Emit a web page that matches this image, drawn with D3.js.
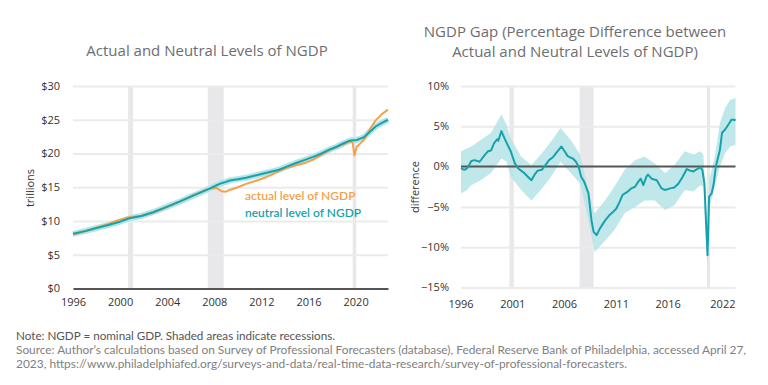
<!DOCTYPE html>
<html><head><meta charset="utf-8">
<script src="https://cdn.jsdelivr.net/npm/d3@7/dist/d3.min.js"></script>
<style>
body{margin:0;background:#fff;}
svg{display:block;font-family:"Open Sans",Lato,sans-serif;}
</style></head><body>
<svg id="c" width="768" height="385"></svg>
<script>
// ---------- DATA ----------
const recessions = [[2000.68, 2001.1], [2007.45, 2008.8], [2019.75, 2020.05]];

const levelYears = [1996.0,1997.0,1998.0,1999.0,2000.0,2000.8,2001.8,2002.8,2003.9,2005.1,2006.2,2007.0,2007.6,2008.2,2008.6,2009.0,2009.3,2010.0,2010.7,2011.4,2012.1,2012.8,2013.5,2014.2,2014.95,2015.7,2016.4,2017.1,2017.8,2018.4,2018.9,2019.5,2019.75,2019.9,2020.1,2020.4,2020.7,2021.2,2021.7,2022.2,2022.75];
const actualLevel = [8.0,8.45,9.0,9.55,10.2,10.55,10.75,11.2,12.0,12.9,13.8,14.4,14.8,14.9,14.4,14.35,14.6,15.0,15.5,15.9,16.3,16.8,17.4,17.9,18.25,18.6,19.1,19.8,20.5,21.0,21.3,21.8,21.6,19.7,21.0,21.5,22.0,23.6,24.9,25.8,26.5];
const neutralLevel = [8.1,8.5,8.95,9.4,9.9,10.4,10.75,11.3,12.05,12.9,13.75,14.35,14.8,15.3,15.6,15.8,16.0,16.2,16.4,16.7,17.0,17.3,17.6,18.1,18.6,19.05,19.5,20.0,20.6,21.0,21.45,21.9,21.95,21.95,22.0,22.2,22.4,23.2,24.0,24.5,25.0];

const gapYears = [1996.0,1996.3,1996.5,1996.65,1997.0,1997.3,1997.8,1998.3,1998.6,1998.9,1999.2,1999.5,1999.6,1999.9,2000.2,2000.5,2000.8,2001.2,2001.5,2001.8,2002.1,2002.45,2002.8,2003.1,2003.4,2003.8,2004.1,2004.5,2004.9,2005.2,2005.7,2006.0,2006.3,2006.8,2007.1,2007.35,2007.6,2007.9,2008.3,2008.6,2008.8,2009.1,2009.4,2009.9,2010.35,2010.7,2011.0,2011.3,2011.6,2012.1,2012.45,2012.8,2013.1,2013.35,2013.6,2013.9,2014.05,2014.4,2014.9,2015.35,2015.7,2016.2,2016.6,2017.0,2017.4,2017.8,2018.1,2018.45,2018.8,2019.1,2019.3,2019.5,2019.65,2019.8,2019.95,2020.2,2020.4,2020.6,2020.75,2021.0,2021.2,2021.5,2021.8,2022.1,2022.4,2022.5];
const gapValues = [-0.2,-0.4,-0.3,-0.1,0.7,0.8,0.6,1.45,1.9,2.0,2.9,3.4,3.2,4.4,3.5,2.7,1.9,0.4,-0.2,-0.5,-0.8,-1.25,-1.7,-1.0,-0.5,-0.4,0.1,0.8,1.2,1.7,2.5,1.9,1.3,1.0,0.6,0.0,-1.25,-1.9,-3.3,-6.7,-8.1,-8.5,-7.7,-6.7,-6.0,-5.6,-5.2,-4.4,-3.5,-3.1,-2.7,-2.5,-1.9,-1.5,-2.3,-1.25,-1.0,-1.5,-1.7,-2.7,-2.9,-2.7,-2.6,-2.1,-1.25,-0.3,-0.5,-0.6,-0.3,-0.1,-0.4,-2.1,-6.7,-11.0,-3.75,-3.3,-2.1,0.0,0.8,2.1,4.2,4.6,5.2,5.8,5.8,5.7];

const bandYears = [1996.0,1996.5,1997.0,1997.9,1998.9,1999.9,2000.4,2000.8,2001.8,2002.8,2003.7,2004.7,2005.6,2006.6,2007.5,2008.3,2008.9,2009.9,2010.8,2011.8,2012.8,2013.7,2014.7,2015.7,2016.6,2017.6,2018.45,2019.1,2019.4,2019.65,2019.8,2019.95,2020.5,2021.0,2021.5,2022.0,2022.5];
const bandUpper = [1.9,2.2,2.5,3.3,4.2,6.5,5.2,3.5,1.25,0.2,1.5,3.1,4.8,3.3,1.5,-2.9,-5.8,-4.2,-2.5,-0.4,0.8,1.25,0.4,-0.8,0.2,1.9,1.5,1.9,1.5,-4.5,-10.0,-1.7,1.25,5.4,7.3,8.3,8.5];
const bandLower = [-3.3,-3.0,-2.3,-1.7,-0.8,1.0,0.6,-1.25,-2.9,-4.2,-2.9,-1.25,0.6,-0.8,-2.1,-6.7,-10.6,-9.2,-7.9,-5.8,-5.0,-4.2,-4.2,-5.4,-4.8,-2.9,-3.1,-2.3,-2.5,-9.0,-12.9,-5.4,-2.5,0.0,1.7,2.5,2.7];

const leftYTicks = [0,5,10,15,20,25,30];
const leftYLabels = ["$0","$5","$10","$15","$20","$25","$30"];
const leftXTicks = [1996,2000,2004,2008,2012,2016,2020];
const rightYTicks = [-15,-10,-5,0,5,10];
const rightYLabels = ["\u221215%","\u221210%","\u22125%","0%","5%","10%"];
const rightXTicks = [1996,2001,2006,2011,2016,2022];

const leftTitle = "Actual and Neutral Levels of NGDP";
const rightTitle = ["NGDP Gap (Percentage Difference between","Actual and Neutral Levels of NGDP)"];
const notes = ["Note: NGDP = nominal GDP. Shaded areas indicate recessions.",
 "Source: Author\u2019s calculations based on Survey of Professional Forecasters (database), Federal Reserve Bank of Philadelphia, accessed April 27,",
 "2023, https://www.philadelphiafed.org/surveys-and-data/real-time-data-research/survey-of-professional-forecasters."];

// ---------- STYLE ----------
const ORANGE = "#f5a14a", TEAL = "#17a2ab", BAND = "#b5e4e8", REC = "#e8e8ea", GRID = "#ebebeb", BASE = "#555";
const svg = d3.select("#c");

// ---------- LEFT CHART ----------
const lx = d3.scaleLinear().domain([1996, 2022.75]).range([73, 388]);
const ly = d3.scaleLinear().domain([0, 30]).range([288.5, 86]);
const L = svg.append("g");
L.selectAll("rect.rec").data(recessions).join("rect")
  .attr("x", d => lx(d[0])).attr("width", d => lx(d[1]) - lx(d[0]))
  .attr("y", ly(30)).attr("height", ly(0) - ly(30)).attr("fill", REC);
L.append("g").attr("transform", `translate(73,0)`)
  .call(d3.axisLeft(ly).tickValues(leftYTicks.slice(1)).tickSize(-(388 - 73)).tickFormat(""))
  .call(g => { g.select(".domain").remove(); g.selectAll("line").attr("stroke", GRID).attr("stroke-width", 2); });
L.selectAll("text.ly").data(leftYTicks).join("text")
  .attr("x", 60).attr("y", d => ly(d)).attr("dy", "0.35em").attr("text-anchor", "end")
  .attr("font-size", 11).attr("fill", "#333").text((d, i) => leftYLabels[i]);
L.append("g").attr("transform", `translate(0,${ly(0)})`)
  .call(d3.axisBottom(lx).tickValues(leftXTicks).tickSize(0).tickPadding(10).tickFormat(d3.format("d")))
  .call(g => { g.select(".domain").attr("stroke", BASE).attr("stroke-width", 2);
    g.selectAll("text").attr("font-size", 11).attr("fill", "#333").attr("font-family", "'Open Sans',sans-serif"); });
L.append("text").attr("transform", "translate(34,188) rotate(-90)").attr("text-anchor", "middle")
  .attr("font-size", 11).attr("fill", "#333").text("trillions");
const lineL = (ys) => d3.line().x((d, i) => lx(levelYears[i])).y(d => ly(d))(ys);
L.append("path").attr("d", lineL(neutralLevel)).attr("fill", "none").attr("stroke", BAND).attr("stroke-width", 6).attr("stroke-linejoin","round");
L.append("path").attr("d", lineL(actualLevel)).attr("fill", "none").attr("stroke", ORANGE).attr("stroke-width", 2).attr("stroke-linejoin","round");
L.append("path").attr("d", lineL(neutralLevel)).attr("fill", "none").attr("stroke", TEAL).attr("stroke-width", 2).attr("stroke-linejoin","round");
L.append("text").attr("x", 245).attr("y", 200).attr("font-size", 12).attr("font-weight", 600).attr("fill", ORANGE)
  .attr("font-family", "Lato,sans-serif").text("actual level of NGDP");
L.append("text").attr("x", 245).attr("y", 217).attr("font-size", 12).attr("font-weight", 600).attr("fill", TEAL)
  .attr("font-family", "Lato,sans-serif").text("neutral level of NGDP");
L.append("text").attr("x", 207).attr("y", 56).attr("text-anchor", "middle").attr("font-size", 15)
  .attr("fill", "#6d6e71").text(leftTitle);

// ---------- RIGHT CHART ----------
const rx = d3.scaleLinear().domain([1996, 2022.5]).range([461, 735.5]);
const ry = d3.scaleLinear().domain([-15, 10]).range([287.5, 86]);
const R = svg.append("g");
R.selectAll("rect.rec").data(recessions).join("rect")
  .attr("x", d => rx(d[0])).attr("width", d => rx(d[1]) - rx(d[0]))
  .attr("y", ry(10)).attr("height", ry(-15) - ry(10)).attr("fill", REC);
R.append("g").attr("transform", `translate(461,0)`)
  .call(d3.axisLeft(ry).tickValues(rightYTicks.filter(d => d !== 0)).tickSize(-(735.5 - 461)).tickFormat(""))
  .call(g => { g.select(".domain").remove(); g.selectAll("line").attr("stroke", GRID).attr("stroke-width", 2); });
R.selectAll("text.ry").data(rightYTicks).join("text")
  .attr("x", 449).attr("y", d => ry(d)).attr("dy", "0.35em").attr("text-anchor", "end")
  .attr("font-size", 11).attr("fill", "#333").text((d, i) => rightYLabels[i]);
R.selectAll("text.rx").data(rightXTicks).join("text")
  .attr("x", (d, i) => i === rightXTicks.length - 1 ? 735.5 : rx(d)).attr("y", 308)
  .attr("text-anchor", (d, i) => i === rightXTicks.length - 1 ? "end" : "middle")
  .attr("font-size", 11).attr("fill", "#333").text(d => d);
R.append("text").attr("transform", "translate(419,187) rotate(-90)").attr("text-anchor", "middle")
  .attr("font-size", 11).attr("fill", "#333").text("difference");
const area = d3.area().x((d, i) => rx(bandYears[i])).y0((d, i) => ry(bandLower[i])).y1(d => ry(d));
R.append("path").attr("d", area(bandUpper)).attr("fill", BAND).attr("opacity", 0.85);
R.append("line").attr("x1", 461).attr("x2", 735.5).attr("y1", ry(0)).attr("y2", ry(0)).attr("stroke", BASE).attr("stroke-width", 2);
R.append("path").attr("d", d3.line().x((d, i) => rx(gapYears[i])).y(d => ry(d))(gapValues))
  .attr("fill", "none").attr("stroke", TEAL).attr("stroke-width", 2).attr("stroke-linejoin","round");
R.selectAll("text.rt").data(rightTitle).join("text")
  .attr("x", 575).attr("y", (d, i) => 37 + i * 20).attr("text-anchor", "middle").attr("font-size", 15)
  .attr("fill", "#6d6e71").text(d => d);

// ---------- NOTES ----------
const noteW = [319, 730, 611];
svg.selectAll("text.note").data(notes).join("text")
  .attr("x", 16).attr("y", (d, i) => 339.5 + i * 14.4).attr("font-size", 11)
  .attr("font-family", "Lato,sans-serif")
  .attr("fill", (d, i) => i === 0 ? "#555" : "#808080")
  .attr("textLength", (d, i) => noteW[i]).attr("lengthAdjust", "spacingAndGlyphs")
  .text(d => d);
</script>
</body></html>
